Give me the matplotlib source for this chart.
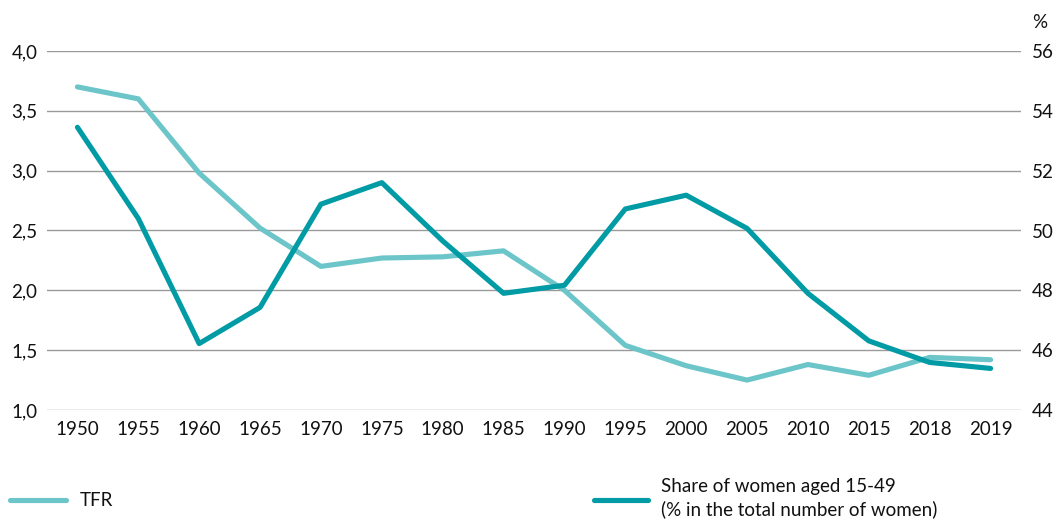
import numpy as np
import matplotlib.pyplot as plt
from matplotlib.lines import Line2D

plt.rcParams['font.family'] = ['Lato', 'DejaVu Sans']

# dados
anos = ['1950', '1955', '1960', '1965', '1970', '1975', '1980', '1985',
        '1990', '1995', '2000', '2005', '2010', '2015', '2018', '2019']
tfr = [3.70, 3.60, 2.98, 2.52, 2.20, 2.27, 2.28, 2.33,
       2.00, 1.54, 1.37, 1.25, 1.38, 1.29, 1.44, 1.42]
share_mulheres = [53.45, 50.40, 46.22, 47.43, 50.88, 51.60, 49.65, 47.90,
                  48.17, 50.72, 51.18, 50.07, 47.90, 46.31, 45.59, 45.39]

ticks_esq = [1.0, 1.5, 2.0, 2.5, 3.0, 3.5, 4.0]
ticks_dir = [44, 46, 48, 50, 52, 54, 56]

cor_tfr = '#6CC5C9'
cor_share = '#009BA4'
cor_texto = '#111111'
tam_fonte = 13.5

fig = plt.figure(figsize=(10.57, 5.21), dpi=100)
ax = fig.add_axes([47/1057, 1 - 410/521, (1021 - 47)/1057, (410 - 51)/521])
ax2 = ax.twinx()

x = np.arange(len(anos))

# grade horizontal
for t in ticks_esq:
    ax.axhline(t, color='#9a9a9a', lw=1.0, zorder=0)

ax.plot(x, tfr, color=cor_tfr, lw=3.7, solid_capstyle='round', zorder=3)
ax2.plot(x, share_mulheres, color=cor_share, lw=3.7, solid_capstyle='round', zorder=3)

ax.set_xlim(-0.5, len(anos) - 0.5)
ax.set_ylim(1.0, 4.0)
ax2.set_ylim(44, 56)

ax.set_yticks(ticks_esq)
ax.set_yticklabels([f'{t:.1f}'.replace('.', ',') for t in ticks_esq])
ax2.set_yticks(ticks_dir)
ax2.set_yticklabels([str(t) for t in ticks_dir])
ax.set_xticks(x)
ax.set_xticklabels(anos)

for a in (ax, ax2):
    for s in a.spines.values():
        s.set_visible(False)
    a.tick_params(length=0, labelsize=tam_fonte, colors=cor_texto)
ax.tick_params(axis='x', pad=8)
ax.tick_params(axis='y', pad=7)
ax2.tick_params(axis='y', pad=8)

fig.text(1040/1057, 1 - 22/521, '%', ha='center', va='center', fontsize=tam_fonte, color=cor_texto)

# legenda manual
fig.add_artist(Line2D([10/1057, 66/1057], [1 - 500/521, 1 - 500/521],
                      color=cor_tfr, lw=3.7, solid_capstyle='round'))
fig.text(80/1057, 1 - 500/521, 'TFR', va='center', fontsize=tam_fonte, color=cor_texto)
fig.add_artist(Line2D([594/1057, 648/1057], [1 - 500/521, 1 - 500/521],
                      color=cor_share, lw=3.7, solid_capstyle='round'))
fig.text(661/1057, 1 - 498/521, 'Share of women aged 15-49\n(% in the total number of women)',
         va='center', fontsize=tam_fonte, color=cor_texto, linespacing=1.3)

fig.savefig('out.png', dpi=100)
